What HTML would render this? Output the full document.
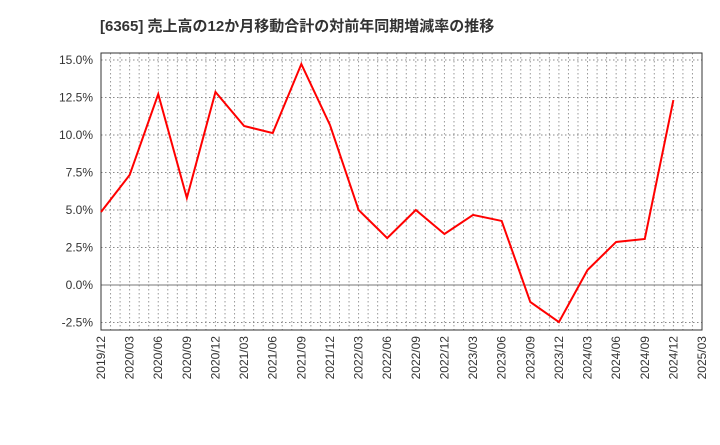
<!DOCTYPE html>
<html><head><meta charset="utf-8"><style>
body{margin:0;background:#fff;font-family:"Liberation Sans","Noto Sans CJK JP",sans-serif}
</style></head><body>
<svg id="c" width="720" height="440" xmlns="http://www.w3.org/2000/svg">
<text x="100" y="31" font-size="15" font-weight="bold" fill="#333" font-family="Liberation Sans, Noto Sans CJK JP, sans-serif">[6365]  売上高の12か月移動合計の対前年同期増減率の推移</text>
<g id="grid"></g><g id="axes"></g><g id="series"></g>
</svg>
<script>
const categories=["2019/12","2020/03","2020/06","2020/09","2020/12","2021/03","2021/06","2021/09","2021/12","2022/03","2022/06","2022/09","2022/12","2023/03","2023/06","2023/09","2023/12","2024/03","2024/06","2024/09","2024/12"];
const values=[4.87,7.33,12.73,5.8,12.87,10.6,10.13,14.73,10.67,5.0,3.13,5.0,3.4,4.67,4.27,-1.13,-2.47,1.0,2.87,3.07,12.33];
const xTickLabels=["2019/12","2020/03","2020/06","2020/09","2020/12","2021/03","2021/06","2021/09","2021/12","2022/03","2022/06","2022/09","2022/12","2023/03","2023/06","2023/09","2023/12","2024/03","2024/06","2024/09","2024/12","2025/03"];
const yTicks=[-2.5,0,2.5,5,7.5,10,12.5,15];
const NS="http://www.w3.org/2000/svg";
const L=101,R=702,T=53,B=330;
const x=i=>L+(R-L)*i/21;
const y=v=>285-v*15;
function mk(tag,attrs,parent){const e=document.createElementNS(NS,tag);for(const k in attrs)e.setAttribute(k,attrs[k]);document.getElementById(parent).appendChild(e);return e;}
for(let m=1;m<63;m++){const xx=L+(R-L)*m/63;
const g=mk('line',{x1:xx,x2:xx,y1:T,y2:B,stroke:'#999','stroke-width':1,'stroke-dasharray':'1.5,2.5'},'grid');

}
yTicks.forEach(v=>{const yy=y(v);
const g=mk('line',{x1:L,x2:R,y1:yy,y2:yy,stroke:v===0?'#777':'#888','stroke-width':1,'stroke-dasharray':v===0?'':'1.5,2.5'},'grid');


const t=mk('text',{x:L-8,y:yy+4,'text-anchor':'end','font-size':12,fill:'#333'},'axes');t.textContent=v.toFixed(1)+'%';

});
xTickLabels.forEach((s,i)=>{const xx=x(i);
const t=mk('text',{x:0,y:0,transform:`translate(${xx+4},${B+6}) rotate(-90)`,'text-anchor':'end','font-size':12,fill:'#333'},'axes');t.textContent=s;

});
const fr=mk('rect',{x:L,y:T,width:R-L,height:B-T,fill:'none',stroke:'#333','stroke-width':1},'axes');


const p=mk('polyline',{points:values.map((v,i)=>x(i)+','+y(v)).join(' '),fill:'none',stroke:'#f00','stroke-width':2,'stroke-linejoin':'miter'},'series');


</script>
</body></html>
